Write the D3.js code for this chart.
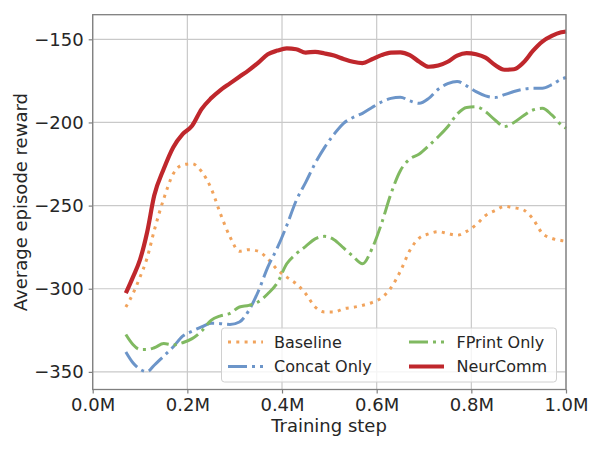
<!DOCTYPE html>
<html>
<head>
<meta charset="utf-8">
<script src="https://cdn.jsdelivr.net/npm/d3@7"></script>
<style>
  html, body { margin: 0; padding: 0; background: #fff; }
  svg { display: block; font-family: "DejaVu Sans", sans-serif; }
</style>
</head>
<body>
<svg id="chart" width="600" height="450"></svg>
<script>
// ---- data (training steps in millions) ----
const steps = [0.07,0.085,0.10,0.115,0.13,0.15,0.17,0.19,0.21,0.23,0.25,0.27,0.29,0.31,0.33,0.35,0.37,0.39,0.41,0.43,0.45,0.47,0.49,0.51,0.53,0.55,0.57,0.59,0.61,0.63,0.65,0.67,0.69,0.71,0.73,0.75,0.77,0.79,0.81,0.83,0.85,0.87,0.89,0.91,0.93,0.95,0.97,0.99,1.0];

const baseline = [-311,-303,-293,-281.5,-265,-246,-231,-225.5,-224.8,-229.5,-239.5,-255,-268.7,-277.5,-276.5,-277.5,-282,-288.5,-293,-297,-303,-311,-314,-314,-312,-311.2,-310,-308.3,-305.5,-299.5,-289.5,-277,-269.5,-267,-265.7,-266.8,-267.8,-265.5,-261.5,-256,-253,-250.5,-251.3,-252.6,-258,-266.7,-269.7,-271,-271.5];

const concatOnly = [-338,-344.5,-348.4,-349.9,-346,-340.5,-335,-328.5,-325.5,-323,-320.8,-321,-321.5,-320,-313,-301.5,-287,-275.5,-262,-247,-236,-224.6,-215,-207,-200.5,-197,-194.5,-191,-187.7,-185.5,-184.8,-187,-188.5,-185.5,-180,-176.7,-175.3,-178,-181.5,-184,-185,-183.3,-181.4,-180,-179.5,-179.5,-177.3,-174,-173];

const fprintOnly = [-327.5,-333.5,-336.5,-336.5,-335.5,-333,-333.8,-332.5,-330,-325.5,-319,-316.3,-314.8,-311,-310,-307.8,-303,-296.5,-285,-279,-274.5,-270,-268.5,-270.5,-275.5,-280.5,-285,-276,-261,-243,-229,-222,-219,-214,-208.6,-202.6,-195,-191,-190.6,-193.5,-198.5,-202.5,-200,-196,-192.5,-191.5,-195.5,-201.5,-203.5];

const neurComm = [-302.7,-293,-282.5,-266,-244,-228,-215,-207,-202,-192,-185.5,-180.5,-176.5,-172.5,-168.5,-164,-159,-156.8,-155.5,-156,-158,-157.5,-158.5,-159.8,-161.8,-163.5,-164.3,-162,-159.5,-158,-157.8,-159.5,-163.5,-166.5,-165.8,-163.5,-159.8,-158.3,-159,-161,-165.5,-168.3,-168,-164,-157,-151.4,-148,-145.8,-145.3];

const seriesNames = ["Baseline", "Concat Only", "FPrint Only", "NeurComm"];
const seriesValues = [baseline, concatOnly, fprintOnly, neurComm];
const xTicks = [0, 0.2, 0.4, 0.6, 0.8, 1.0];
const yTicks = [-350, -300, -250, -200, -150];

// ---- styles ----
const styles = {
  "Baseline":    { color: "#f1a35c", width: 3,   dash: "3,5.3" },
  "Concat Only": { color: "#6c95c9", width: 3,   dash: "19,5,3,5" },
  "FPrint Only": { color: "#80b961", width: 3,   dash: "19,5,3,5" },
  "NeurComm":    { color: "#bf272c", width: 4.2, dash: null }
};

const svg = d3.select("#chart");
const L = 92.7, R = 566, T = 14.7, B = 389.5;

const x = d3.scaleLinear().domain([0, 1.0]).range([L, R]);
const y = d3.scaleLinear().domain([-360.6, -135.2]).range([B, T]);

const textColor = "#262626";
const gridColor = "#c9c9c9";
const spineColor = "#7f7f7f";

// grid
const grid = svg.append("g");
grid.selectAll("line.gx").data(xTicks).join("line")
  .attr("x1", d => x(d)).attr("x2", d => x(d))
  .attr("y1", T).attr("y2", B)
  .attr("stroke", gridColor).attr("stroke-width", 1.2);
grid.selectAll("line.gy").data(yTicks).join("line")
  .attr("x1", L).attr("x2", R)
  .attr("y1", d => y(d)).attr("y2", d => y(d))
  .attr("stroke", gridColor).attr("stroke-width", 1.2);

// lines
const line = d3.line()
  .x((d, i) => x(steps[i]))
  .y(d => y(d))
  .curve(d3.curveMonotoneX);

const plot = svg.append("g");
seriesNames.forEach((name, k) => {
  const s = styles[name];
  plot.append("path")
    .datum(seriesValues[k])
    .attr("d", line)
    .attr("fill", "none")
    .attr("stroke", s.color)
    .attr("stroke-width", s.width)
    .attr("stroke-dasharray", s.dash)
    .attr("stroke-linejoin", "round");
});

// axes
const xAxis = d3.axisBottom(x).tickValues(xTicks)
  .tickFormat(d => d3.format(".1f")(d) + "M")
  .tickSize(4).tickSizeOuter(0).tickPadding(5);
const yAxis = d3.axisLeft(y).tickValues(yTicks)
  .tickFormat(d => "\u2212" + Math.abs(d))
  .tickSize(4).tickSizeOuter(0).tickPadding(5);

const gx = svg.append("g").attr("transform", `translate(0,${B})`).call(xAxis);
const gy = svg.append("g").attr("transform", `translate(${L},0)`).call(yAxis);
[gx, gy].forEach(g => {
  g.select(".domain").remove();
  g.selectAll(".tick line").attr("stroke", spineColor).attr("stroke-width", 1.2);
  g.selectAll(".tick text").attr("fill", textColor)
    .style("font-size", "18px").style("font-family", "DejaVu Sans");
});

// spines
svg.append("rect")
  .attr("x", L).attr("y", T).attr("width", R - L).attr("height", B - T)
  .attr("fill", "none").attr("stroke", spineColor).attr("stroke-width", 1.3);

// axis labels
svg.append("text")
  .attr("x", 329).attr("y", 432)
  .attr("text-anchor", "middle")
  .attr("fill", textColor)
  .style("font-size", "18px")
  .text("Training step");

svg.append("text")
  .attr("transform", `translate(27,${(T + B) / 2}) rotate(-90)`)
  .attr("text-anchor", "middle")
  .attr("fill", textColor)
  .style("font-size", "18px")
  .text("Average episode reward");

// legend
const legend = svg.append("g");
legend.append("rect")
  .attr("x", 221.5).attr("y", 328).attr("width", 335).attr("height", 54)
  .attr("rx", 3).attr("ry", 3)
  .attr("fill", "#ffffff").attr("fill-opacity", 0.8)
  .attr("stroke", "#d0d0d0").attr("stroke-width", 1);

const legendPos = [
  { hx: 228, tx: 274, y: 342 },
  { hx: 228, tx: 274, y: 366.5 },
  { hx: 409, tx: 456.5, y: 342 },
  { hx: 409, tx: 456.5, y: 366.5 }
];
seriesNames.forEach((name, k) => {
  const s = styles[name];
  const p = legendPos[k];
  legend.append("line")
    .attr("x1", p.hx).attr("x2", p.hx + 35)
    .attr("y1", p.y).attr("y2", p.y)
    .attr("stroke", s.color).attr("stroke-width", s.width)
    .attr("stroke-dasharray", s.dash);
  legend.append("text")
    .attr("x", p.tx).attr("y", p.y).attr("dy", "0.35em")
    .attr("fill", textColor)
    .style("font-size", "16px")
    .text(name);
});
</script>
</body>
</html>
